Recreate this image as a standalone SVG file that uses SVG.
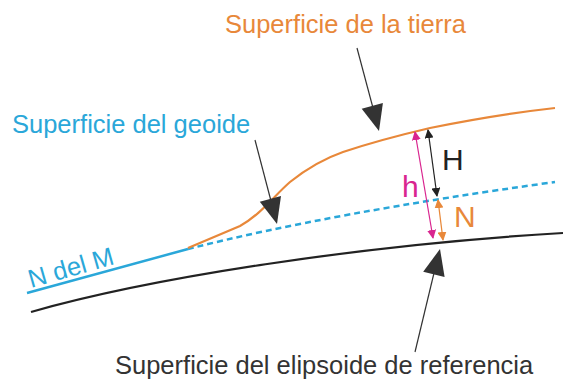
<svg xmlns="http://www.w3.org/2000/svg" width="563" height="380" viewBox="0 0 563 380">
<style>
text{font-family:"Liberation Sans",Arial,sans-serif;}
.lbl{font-size:25.5px;}
.big{font-size:30px;}
.ptr{stroke:#333;stroke-width:1.2;fill:none;}
.head{fill:#333;}
</style>
<defs>
<marker id="mk" viewBox="0 0 10 10" refX="9" refY="5" markerWidth="9" markerHeight="9" markerUnits="userSpaceOnUse" orient="auto-start-reverse"><path d="M0,0 L10,5 L0,10 Z" fill="#222"/></marker>
<marker id="mp" viewBox="0 0 10 10" refX="9" refY="5" markerWidth="9" markerHeight="9" markerUnits="userSpaceOnUse" orient="auto-start-reverse"><path d="M0,0 L10,5 L0,10 Z" fill="#d9258f"/></marker>
<marker id="mo" viewBox="0 0 10 10" refX="9" refY="5" markerWidth="9" markerHeight="9" markerUnits="userSpaceOnUse" orient="auto-start-reverse"><path d="M0,0 L10,5 L0,10 Z" fill="#e8883a"/></marker>
</defs>
<g id="surfaces">
<path id="ellipsoid" d="M31,312 C150,278 360,245 563,233" fill="none" stroke="#222" stroke-width="2.2"/>
<path id="geoid-solid" d="M27,293 L188,249" fill="none" stroke="#2aa7d9" stroke-width="2.5"/>
<path id="geoid-dashed" d="M188,249 Q330,213 555,182" fill="none" stroke="#2aa7d9" stroke-width="2.5" stroke-dasharray="6,4"/>
<path id="earth" d="M188,248 L240,226 C260,215 275,195 290,182 C305,170 320,160 343,152 C370,143 400,135 430,128 C470,120 510,113 555,108" fill="none" stroke="#e8883a" stroke-width="2.2"/>
</g>
<g id="connectors">
<line x1="415" y1="132" x2="433" y2="238" stroke="#d9258f" stroke-width="1.2" marker-start="url(#mp)" marker-end="url(#mp)"/>
<line x1="428" y1="130" x2="437" y2="196" stroke="#222" stroke-width="1.2" marker-start="url(#mk)" marker-end="url(#mk)"/>
<line x1="438" y1="200" x2="443" y2="240" stroke="#e8883a" stroke-width="1.2" marker-start="url(#mo)" marker-end="url(#mo)"/>
<line class="ptr" x1="357" y1="48" x2="373" y2="108"/>
<polygon class="head" points="379,131 382.9,103.1 361.7,108.7"/>
<line class="ptr" x1="255" y1="140" x2="271" y2="201"/>
<polygon class="head" points="277,224 281,196.1 259.8,201.7"/>
<line class="ptr" x1="415" y1="352" x2="434" y2="273"/>
<polygon class="head" points="440,249 444.6,276.9 423.2,271.7"/>
</g>
<g id="label-tierra"><text class="lbl" x="225" y="33" fill="#e8883a">Superficie de la tierra</text></g>
<g id="label-geoide"><text class="lbl" x="12" y="133" fill="#2aa7d9">Superficie del geoide</text></g>
<g id="label-elipsoide"><text class="lbl" x="115" y="374" fill="#333">Superficie del elipsoide de referencia</text></g>
<g id="label-ndelm"><text class="lbl" x="31" y="288" fill="#2aa7d9" transform="rotate(-16 31 288)">N del M</text></g>
<g id="label-H"><text class="big" x="442" y="170" fill="#222">H</text></g>
<g id="label-h"><text class="big" x="402" y="197" fill="#d9258f">h</text></g>
<g id="label-N"><text class="big" x="454" y="227" fill="#e8883a">N</text></g>
</svg>
